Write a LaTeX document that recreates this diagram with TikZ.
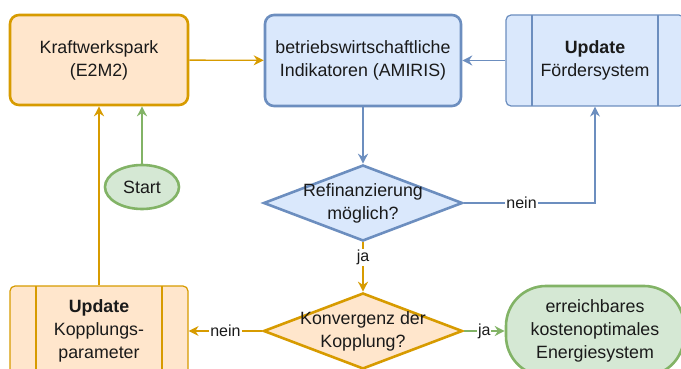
\documentclass[tikz,border=0pt]{standalone}
\usepackage{fontspec}
\setmainfont{Liberation Sans}
\usepackage{tikz}
\usetikzlibrary{arrows.meta,shapes.geometric}
\definecolor{OrangeFill}{HTML}{FFE6CC}
\definecolor{OrangeRand}{HTML}{D79B00}
\definecolor{BlauFill}{HTML}{DAE8FC}
\definecolor{BlauRand}{HTML}{6C8EBF}
\definecolor{GruenFill}{HTML}{D5E8D4}
\definecolor{GruenRand}{HTML}{82B366}
\definecolor{Schrift}{HTML}{1A1A1A}

\begin{document}
\begin{tikzpicture}[x=1pt,y=-1pt,>={Stealth[length=10pt,width=10pt]},
  font=\fontsize{17.8}{23}\selectfont,text=Schrift,
  box/.style={draw,rounded corners=9pt,line width=2.6pt,align=center,minimum width=178pt,minimum height=90pt,inner sep=0pt},
  proc/.style={draw=#1,line width=1.2pt,rounded corners=5pt,align=center,minimum width=178pt,minimum height=90pt,inner sep=0pt,
    path picture={\draw[#1,line width=1.2pt]
      ([xshift=26pt]path picture bounding box.north west) -- ([xshift=26pt]path picture bounding box.south west)
      ([xshift=-26pt]path picture bounding box.north east) -- ([xshift=-26pt]path picture bounding box.south east);}},
  entscheidung/.style={diamond,draw,line width=2.6pt,minimum width=199pt,minimum height=76pt,inner sep=0pt},
  pfeil/.style={->,line width=1.4pt},
  marke/.style={fill=white,text=Schrift,inner sep=1pt,font=\fontsize{16}{18}\selectfont}]
  \useasboundingbox (0,0) rectangle (681,369);
  \clip (0,0) rectangle (681,369);

  % obere Reihe
  \node[box,fill=OrangeFill,draw=OrangeRand] (kwp) at (99,60) {Kraftwerkspark\\(E2M2)};
  \node[box,fill=BlauFill,draw=BlauRand,minimum width=196pt,minimum height=91pt] (amiris) at (363,60.5) {betriebswirtschaftliche\\Indikatoren (AMIRIS)};
  \node[proc=BlauRand,fill=BlauFill,minimum height=91pt] (foerd) at (595,60.5) {\textbf{Update}\\Fördersystem};

  % Start
  \node[ellipse,draw=GruenRand,fill=GruenFill,line width=2.6pt,minimum width=74pt,minimum height=44pt,inner sep=0pt] (start) at (142,187) {Start};

  % Entscheidungen
  \node[entscheidung,fill=BlauFill,draw=BlauRand] (refi) at (363,203) {};
  \node[align=center] (refitext) at (refi) {Refinanzierung\\möglich?};
  \node[entscheidung,fill=OrangeFill,draw=OrangeRand] (konv) at (363,331) {};
  \node[align=center] (konvtext) at (konv) {Konvergenz der\\Kopplung?};

  % untere Reihe
  \node[proc=OrangeRand,fill=OrangeFill] (kopp) at (99,331) {\textbf{Update}\\Kopplungs-\\parameter};
  \node[draw=GruenRand,fill=GruenFill,line width=2.6pt,rounded corners=40pt,minimum width=178pt,minimum height=90pt,align=center] (ziel) at (595,331) {erreichbares\\kostenoptimales\\Energiesystem};

  % Verbindungen
  \draw[pfeil,OrangeRand] (kwp) -- (amiris);
  \draw[pfeil,BlauRand] (foerd) -- (amiris);
  \draw[pfeil,BlauRand] (amiris) -- (refi);
  \draw[pfeil,BlauRand] (refi.east) -| node[marke,pos=0.22] {nein} (foerd.south);
  \draw[pfeil,GruenRand] (start) -- (start |- kwp.south);
  \draw[pfeil,OrangeRand] (kopp) -- (kwp);
  \draw[pfeil,OrangeRand] (refi) -- node[marke,pos=0.3] {ja} (konv);
  \draw[pfeil,OrangeRand] (konv) -- node[marke] {nein} (kopp);
  \draw[pfeil,GruenRand] (konv) -- node[marke] {ja} (ziel);
\end{tikzpicture}
\end{document}
